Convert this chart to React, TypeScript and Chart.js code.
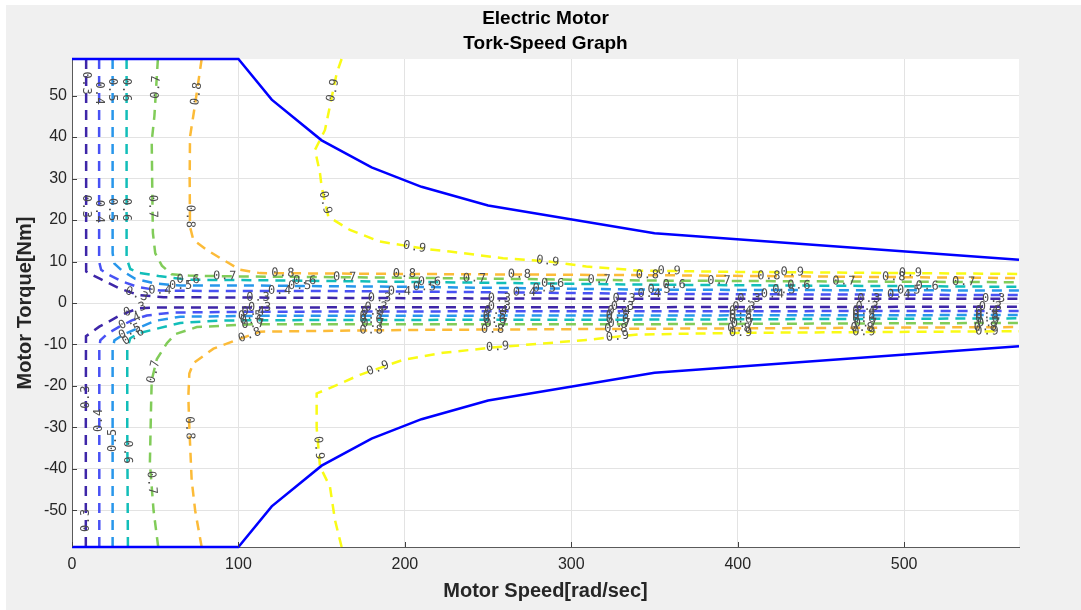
import React, { useEffect, useRef } from 'react';
import { Chart, registerables } from 'chart.js';

Chart.register(...registerables);

// ---------- axis ticks ----------
const speedTicks = [0, 100, 200, 300, 400, 500];
const torqueTicks = [-50, -40, -30, -20, -10, 0, 10, 20, 30, 40, 50];
const speedMax = 569;
const torqueLimit = 58.8;

// ---------- max torque envelope ----------
const envelopeSpeed = [0, 100, 120, 150, 180, 210, 250, 350, 569];
const envelopeTorqueUpper = [58.8, 58.8, 49, 39.2, 32.7, 28, 23.5, 16.8, 10.4];
const envelopeTorqueLower = [-58.8, -58.8, -49, -39.2, -32.7, -28, -23.5, -16.8, -10.4];

// ---------- efficiency contour levels ----------
const levelNames = ['0.3', '0.4', '0.5', '0.6', '0.7', '0.8', '0.9'];
const levelColors = ['#3e26a8', '#4852f4', '#2796eb', '#12beb9', '#81cc59', '#fcbb38', '#f9fb15'];

// contour polylines [speed, torque]
const effUpper30 = [[8.5, 58.8], [8.5, 30], [8.5, 7.6], [12, 6.8], [17, 5.8], [28, 3.6], [40, 1.9], [55, 1.4], [110, 1.3], [250, 1.1], [350, 1.0], [569, 1.0]];
const effLower30 = [[8.3, -58.8], [8.3, -30], [8.4, -8], [12, -7], [16.4, -5.7], [22, -4.5], [27.4, -3.3], [33, -2.3], [40, -1.3], [50, -1.1], [110, -1.1], [200, -1.0], [350, -1.0], [569, -0.9]];
const effUpper40 = [[16.3, 58.8], [16.3, 30], [16.3, 10], [17.5, 8], [22, 6.8], [30, 5.2], [40, 3.8], [53, 3.0], [80, 2.9], [150, 2.9], [250, 2.6], [350, 2.2], [569, 1.9]];
const effLower40 = [[16.4, -58.8], [16.4, -30], [16.4, -11], [17, -9], [21, -7.5], [28, -5.8], [36, -4.2], [45, -3.0], [60, -2.3], [110, -2.1], [250, -2.0], [350, -2.0], [569, -1.9]];
const effUpper50 = [[24.4, 58.8], [24.4, 30], [24.4, 12], [25.5, 9.5], [30, 7.8], [38, 5.8], [50, 4.7], [65, 4.2], [110, 4.2], [200, 3.9], [350, 3.2], [569, 3.0]];
const effLower50 = [[24.4, -58.8], [24.4, -30], [24.4, -11], [25.5, -9], [31, -7.6], [40, -6], [50, -4.3], [65, -3.3], [110, -3.1], [350, -3.0], [569, -2.9]];
const effUpper60 = [[32.8, 58.8], [32.8, 30], [32.8, 10.8], [35, 8.2], [40, 7.3], [52, 6.5], [70, 5.6], [110, 5.5], [200, 5.1], [350, 4.4], [569, 3.9]];
const effLower60 = [[33.6, -58.8], [33.2, -30], [33.2, -11], [35, -8.5], [40, -7.3], [50, -6.3], [65, -4.8], [90, -4.2], [150, -4.1], [350, -4.0], [569, -3.7]];
const effUpper70 = [[51.6, 58.8], [49.5, 45], [47.9, 39], [48.3, 25], [48.6, 16.9], [50, 12], [54, 9], [59.9, 6.9], [70, 6.6], [100, 6.4], [200, 6.1], [350, 5.4], [569, 5.0]];
const effLower70 = [[51.8, -58.8], [49, -50], [46.8, -38.6], [47.5, -25], [47.9, -18.6], [51, -13.5], [57, -9.7], [62, -7.5], [75, -5.8], [110, -5.1], [350, -5.1], [569, -4.8]];
const effUpper80 = [[77.9, 58.8], [74, 48], [70.9, 40], [70.7, 30], [70.9, 18.4], [72.9, 15.2], [80.9, 12.8], [90, 10.6], [101, 8], [113, 7.2], [200, 7.0], [350, 6.7], [569, 6.0]];
const effLower80 = [[77.9, -58.8], [74, -50], [71.9, -42.7], [70.5, -30], [69.9, -22.6], [70.5, -17], [72.9, -14.5], [85, -11], [99, -8.9], [113, -6.9], [200, -6.5], [350, -6.2], [569, -5.8]];
const effUpper90 = [[162, 58.8], [159, 55.3], [152, 41.7], [146, 36.9], [149, 31.3], [150, 28], [154, 20.8], [167, 17.6], [185, 14.8], [213, 13.0], [227, 12.4], [259, 10.8], [286, 10], [309, 8.8], [341, 7.8], [400, 7.5], [569, 7.0]];
const effLower90 = [[162, -58.8], [158, -52.3], [155, -44.3], [149, -39.4], [147, -30], [147, -21.8], [159, -19.8], [173, -17.3], [199, -13.7], [223, -12], [256, -10.6], [279, -9.9], [309, -8.9], [340, -7.6], [400, -7.2], [569, -6.8]];

// contour label anchors: speeds (for band parts) and torques (for vertical parts)
const labelSpeedUpper30 = [39, 112, 185, 257, 332, 407, 479, 554];
const labelSpeedUpper40 = [53, 125, 197, 272, 347, 421, 497];
const labelSpeedUpper50 = [65.5, 137, 212, 284, 353, 428, 503];
const labelSpeedUpper60 = [70, 140, 215, 289, 362, 437, 514];
const labelSpeedUpper70 = [92, 164, 242, 317, 389, 464, 536];
const labelSpeedUpper80 = [127, 200, 269, 346, 419, 494];
const labelSpeedUpper90 = [206, 286, 359, 433, 504];
const labelSpeedLower30 = [38, 113, 183, 257, 331, 404, 478, 552];
const labelSpeedLower40 = [35, 109, 181, 255, 329, 402, 476, 550];
const labelSpeedLower50 = [35, 107, 180, 254, 328, 402, 476, 550];
const labelSpeedLower60 = [37, 108, 180, 254, 328, 402, 476, 550];
const labelSpeedLower70 = [109, 181, 255, 329, 403, 477, 551];
const labelSpeedLower80 = [107, 180, 253, 327, 401, 475, 549];
const labelSpeedLower90 = [184, 256, 328, 402, 476, 550];

const labelTorqueUpper30 = [52.9, 23.2];
const labelTorqueUpper40 = [50.5, 22];
const labelTorqueUpper50 = [51.3, 22.4];
const labelTorqueUpper60 = [51.3, 22.4];
const labelTorqueUpper70 = [52.1, 23.2];
const labelTorqueUpper80 = [50.5, 20.8];
const labelTorqueUpper90 = [51.3, 24.1];
const labelTorqueLower30 = [-22.6, -52.3];
const labelTorqueLower40 = [-28.2];
const labelTorqueLower50 = [-33];
const labelTorqueLower60 = [-36];
const labelTorqueLower70 = [-16.5, -43.4];
const labelTorqueLower80 = [-30.2];
const labelTorqueLower90 = [-35];

type Curve = { level: number; pts: number[][]; bySpeed: number[]; byTorque: number[] };

const contourCurves: Curve[] = [
  { level: 0, pts: effUpper30, bySpeed: labelSpeedUpper30, byTorque: labelTorqueUpper30 },
  { level: 0, pts: effLower30, bySpeed: labelSpeedLower30, byTorque: labelTorqueLower30 },
  { level: 1, pts: effUpper40, bySpeed: labelSpeedUpper40, byTorque: labelTorqueUpper40 },
  { level: 1, pts: effLower40, bySpeed: labelSpeedLower40, byTorque: labelTorqueLower40 },
  { level: 2, pts: effUpper50, bySpeed: labelSpeedUpper50, byTorque: labelTorqueUpper50 },
  { level: 2, pts: effLower50, bySpeed: labelSpeedLower50, byTorque: labelTorqueLower50 },
  { level: 3, pts: effUpper60, bySpeed: labelSpeedUpper60, byTorque: labelTorqueUpper60 },
  { level: 3, pts: effLower60, bySpeed: labelSpeedLower60, byTorque: labelTorqueLower60 },
  { level: 4, pts: effUpper70, bySpeed: labelSpeedUpper70, byTorque: labelTorqueUpper70 },
  { level: 4, pts: effLower70, bySpeed: labelSpeedLower70, byTorque: labelTorqueLower70 },
  { level: 5, pts: effUpper80, bySpeed: labelSpeedUpper80, byTorque: labelTorqueUpper80 },
  { level: 5, pts: effLower80, bySpeed: labelSpeedLower80, byTorque: labelTorqueLower80 },
  { level: 6, pts: effUpper90, bySpeed: labelSpeedUpper90, byTorque: labelTorqueUpper90 },
  { level: 6, pts: effLower90, bySpeed: labelSpeedLower90, byTorque: labelTorqueLower90 },
];

const FONT = "'Liberation Sans', Arial, Helvetica, sans-serif";

function locate(pts: number[][], idx: number, v: number, useLast: boolean) {
  let found = -1;
  for (let i = 0; i < pts.length - 1; i++) {
    const a = pts[i][idx];
    const b = pts[i + 1][idx];
    if (a !== b && (v - a) * (v - b) <= 0) {
      found = i;
      if (!useLast) break;
    }
  }
  if (found < 0) return null;
  const p = pts[found];
  const q = pts[found + 1];
  const t = (v - p[idx]) / (q[idx] - p[idx]);
  return { x: p[0] + (q[0] - p[0]) * t, y: p[1] + (q[1] - p[1]) * t, p, q };
}

const plotBackground = {
  id: 'plotBackground',
  beforeDraw(chart: any) {
    const { ctx, chartArea } = chart;
    ctx.save();
    ctx.fillStyle = '#ffffff';
    ctx.fillRect(chartArea.left, chartArea.top, chartArea.right - chartArea.left, chartArea.bottom - chartArea.top);
    ctx.restore();
  },
};

const contourLabels = {
  id: 'contourLabels',
  afterDatasetsDraw(chart: any) {
    const { ctx } = chart;
    const xs = chart.scales.x;
    const ys = chart.scales.y;
    ctx.save();
    ctx.font = "12px 'DejaVu Sans Mono', monospace";
    try {
      (ctx as any).letterSpacing = '0.8px';
    } catch (e) {
      /* ignore */
    }
    ctx.fillStyle = '#4d4d4d';
    ctx.textAlign = 'center';
    ctx.textBaseline = 'middle';
    const draw = (c: Curve, hit: any) => {
      if (!hit) return;
      const px = xs.getPixelForValue(hit.x);
      const py = ys.getPixelForValue(hit.y);
      const dx = xs.getPixelForValue(hit.q[0]) - xs.getPixelForValue(hit.p[0]);
      const dy = ys.getPixelForValue(hit.q[1]) - ys.getPixelForValue(hit.p[1]);
      let ang = Math.atan2(dy, dx);
      if (ang > Math.PI / 2 + 1e-6) ang -= Math.PI;
      if (ang <= -Math.PI / 2 - 1e-6) ang += Math.PI;
      ctx.save();
      ctx.translate(px, py);
      ctx.rotate(ang);
      ctx.fillText(levelNames[c.level], 0, 0);
      ctx.restore();
    };
    for (const c of contourCurves) {
      for (const v of c.bySpeed) draw(c, locate(c.pts, 0, v, true));
      for (const v of c.byTorque) draw(c, locate(c.pts, 1, v, false));
    }
    ctx.restore();
  },
};

const inwardTicks = {
  id: 'inwardTicks',
  afterDraw(chart: any) {
    const { ctx, chartArea } = chart;
    const xs = chart.scales.x;
    const ys = chart.scales.y;
    ctx.save();
    ctx.strokeStyle = '#404040';
    ctx.lineWidth = 1;
    ctx.beginPath();
    for (const t of speedTicks) {
      const px = Math.round(xs.getPixelForValue(t)) + 0.5;
      ctx.moveTo(px, chartArea.bottom);
      ctx.lineTo(px, chartArea.bottom - 5);
    }
    for (const t of torqueTicks) {
      const py = Math.round(ys.getPixelForValue(t)) + 0.5;
      ctx.moveTo(chartArea.left, py);
      ctx.lineTo(chartArea.left + 5, py);
    }
    ctx.stroke();
    ctx.restore();
  },
};

export default function App() {
  const canvasRef = useRef<HTMLCanvasElement>(null);

  useEffect(() => {
    document.body.style.margin = '0';
    const canvas = canvasRef.current;
    if (!canvas) return;

    const toPoints = (pts: number[][]) => pts.map((p) => ({ x: p[0], y: p[1] }));

    const datasets: any[] = [
      {
        label: 'Max torque +',
        data: envelopeSpeed.map((s, i) => ({ x: s, y: envelopeTorqueUpper[i] })),
        borderColor: '#0000ff',
        borderWidth: 2.5,
        showLine: true,
        pointRadius: 0,
        clip: 4,
      },
      {
        label: 'Max torque -',
        data: envelopeSpeed.map((s, i) => ({ x: s, y: envelopeTorqueLower[i] })),
        borderColor: '#0000ff',
        borderWidth: 2.5,
        showLine: true,
        pointRadius: 0,
        clip: 4,
      },
      ...contourCurves.map((c) => ({
        label: 'eff ' + levelNames[c.level],
        data: toPoints(c.pts),
        borderColor: levelColors[c.level],
        borderWidth: 2.5,
        borderDash: [10, 7],
        showLine: true,
        pointRadius: 0,
        clip: 4,
      })),
    ];

    const chart = new Chart(canvas, {
      type: 'scatter',
      data: { datasets },
      options: {
        animation: false,
        responsive: false,
        maintainAspectRatio: false,
        devicePixelRatio: 1,
        events: [],
        layout: { padding: { left: 10, right: 0, top: 0, bottom: 0 } },
        plugins: {
          legend: { display: false },
          tooltip: { enabled: false },
          title: {
            display: true,
            text: ['Electric Motor', 'Tork-Speed Graph'],
            color: '#000000',
            font: { family: FONT, size: 19, weight: 'bold', lineHeight: 25 / 19 },
            padding: { top: 6, bottom: 3 },
          },
        },
        scales: {
          x: {
            type: 'linear',
            position: 'bottom',
            min: 0,
            max: speedMax,
            afterBuildTicks: (s: any) => {
              s.ticks = speedTicks.map((v) => ({ value: v }));
            },
            afterFit: (s: any) => {
              s.height = 63;
            },
            grid: { color: '#e3e3e3', lineWidth: 1, drawTicks: false },
            border: { display: true, color: '#5a5a5a', width: 1 },
            ticks: {
              color: '#262626',
              font: { family: FONT, size: 16 },
              padding: 8,
              maxRotation: 0,
            },
            title: {
              display: true,
              text: 'Motor Speed[rad/sec]',
              color: '#262626',
              font: { family: FONT, size: 20, weight: 'bold', lineHeight: 1.2 },
              padding: { top: 0, bottom: 7 },
            },
          },
          y: {
            type: 'linear',
            position: 'left',
            min: -torqueLimit,
            max: torqueLimit,
            afterBuildTicks: (s: any) => {
              s.ticks = torqueTicks.map((v) => ({ value: v }));
            },
            afterFit: (s: any) => {
              s.width = 62;
            },
            grid: { color: '#e3e3e3', lineWidth: 1, drawTicks: false },
            border: { display: true, color: '#5a5a5a', width: 1 },
            ticks: {
              color: '#262626',
              font: { family: FONT, size: 16 },
              padding: 5,
            },
            title: {
              display: true,
              text: 'Motor Torque[Nm]',
              color: '#262626',
              font: { family: FONT, size: 20, weight: 'bold', lineHeight: 1.2 },
              padding: { top: 3, bottom: 0 },
            },
          },
          spacer: {
            type: 'linear',
            position: 'right',
            display: true,
            afterFit: (s: any) => {
              s.width = 62;
            },
            grid: { display: false, drawTicks: false },
            border: { display: false },
            ticks: { display: false },
          },
        },
      },
      plugins: [plotBackground, contourLabels, inwardTicks],
    } as any);

    return () => chart.destroy();
  }, []);

  return (
    <div style={{ position: 'relative', width: 1081, height: 610, background: '#ffffff', overflow: 'hidden' }}>
      <div style={{ position: 'absolute', left: 6, top: 5, right: 0, bottom: 0, background: '#f0f0f0' }} />
      <canvas
        ref={canvasRef}
        width={1081}
        height={610}
        style={{ position: 'absolute', left: 0, top: 0, width: 1081, height: 610 }}
      />
    </div>
  );
}
